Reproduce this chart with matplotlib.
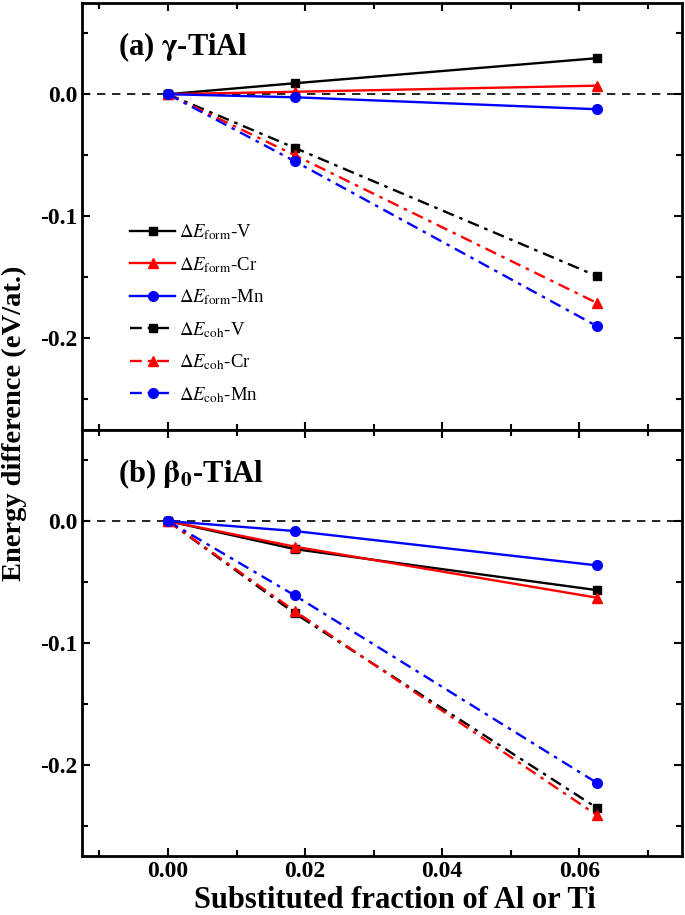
import matplotlib
matplotlib.use("Agg")
import matplotlib.pyplot as plt
from matplotlib.ticker import MultipleLocator

plt.rcParams['font.family'] = ['Liberation Serif', 'DejaVu Serif']
plt.rcParams['mathtext.fontset'] = 'stix'

x = [0.0, 0.0185, 0.0625]

# (a) gamma-TiAl
a_form_V = [0.0, 0.009, 0.0295]
a_form_Cr = [0.0, 0.002, 0.007]
a_form_Mn = [0.0, -0.0025, -0.0123]
a_coh_V = [0.0, -0.044, -0.149]
a_coh_Cr = [0.0, -0.050, -0.171]
a_coh_Mn = [0.0, -0.055, -0.190]

# (b) beta0-TiAl
b_form_V = [0.0, -0.023, -0.0566]
b_form_Cr = [0.0, -0.021, -0.0628]
b_form_Mn = [0.0, -0.0082, -0.0363]
b_coh_V = [0.0, -0.0757, -0.235]
b_coh_Cr = [0.0, -0.0738, -0.241]
b_coh_Mn = [0.0, -0.061, -0.2145]

labels = [r'$\mathit{\Delta}\mathit{E}_{\mathrm{form}}$-V', r'$\mathit{\Delta}\mathit{E}_{\mathrm{form}}$-Cr',
          r'$\mathit{\Delta}\mathit{E}_{\mathrm{form}}$-Mn', r'$\mathit{\Delta}\mathit{E}_{\mathrm{coh}}$-V',
          r'$\mathit{\Delta}\mathit{E}_{\mathrm{coh}}$-Cr', r'$\mathit{\Delta}\mathit{E}_{\mathrm{coh}}$-Mn']
colors = ['black', 'red', 'blue']
markers = ['s', '^', 'o']
msizes = [6, 7.5, 7]
dashdot = (0, (5, 2.5, 1.5, 2.5))

fig, axes = plt.subplots(2, 1, figsize=(6.85, 9.15), dpi=100, sharex=True)
plt.subplots_adjust(left=0.12, right=0.996, top=0.997, bottom=0.064, hspace=0)

panels = [
    (axes[0], [a_form_V, a_form_Cr, a_form_Mn], [a_coh_V, a_coh_Cr, a_coh_Mn], r'(a) $\mathbf{\gamma}$-TiAl'),
    (axes[1], [b_form_V, b_form_Cr, b_form_Mn], [b_coh_V, b_coh_Cr, b_coh_Mn], r'(b) $\mathbf{\beta_0}$-TiAl'),
]

for ax, forms, cohs, title in panels:
    ax.axhline(0, color='black', lw=1.2, ls=(0, (5, 4)), zorder=1)
    for i in range(3):
        ax.plot(x, forms[i], color=colors[i], marker=markers[i], ms=msizes[i], lw=1.7,
                label=labels[i], zorder=3)
    for i in range(3):
        ax.plot(x, cohs[i], color=colors[i], marker=markers[i], ms=msizes[i], lw=1.7,
                ls=dashdot, label=labels[i + 3], zorder=2)
    ax.set_xlim(-0.0125, 0.075)
    ax.set_ylim(-0.275, 0.075)
    ax.xaxis.set_major_locator(MultipleLocator(0.02))
    ax.xaxis.set_minor_locator(MultipleLocator(0.01))
    ax.yaxis.set_major_locator(MultipleLocator(0.1))
    ax.yaxis.set_minor_locator(MultipleLocator(0.05))
    ax.tick_params(which='both', direction='in', top=True, right=True, width=1.5)
    ax.tick_params(which='major', length=6, labelsize=17)
    ax.tick_params(which='minor', length=4)
    for s in ax.spines.values():
        s.set_linewidth(2)
    ax.text(0.06, 0.935, title, transform=ax.transAxes, fontsize=22, fontweight='bold',
            va='top', ha='left')

axes[0].set_yticks([0.0, -0.1, -0.2])
axes[0].set_yticklabels(['0.0', '-0.1', '-0.2'], fontweight='bold')
axes[1].set_yticks([0.0, -0.1, -0.2])
axes[1].set_yticklabels(['0.0', '-0.1', '-0.2'], fontweight='bold')
axes[1].set_xticks([0.0, 0.02, 0.04, 0.06])
axes[1].set_xticklabels(['0.00', '0.02', '0.04', '0.06'], fontweight='bold')

axes[0].legend(loc='upper left', bbox_to_anchor=(0.08, 0.485), frameon=False, fontsize=13.5,
               handlelength=2.4, labelspacing=0.68, handletextpad=0.2,
               borderpad=0, borderaxespad=0)

fig.text(0.002, 0.537, 'Energy difference (eV/at.)', rotation=90, fontsize=20.5,
         fontweight='bold', ha='left', va='center')
fig.text(0.577, 0.008, 'Substituted fraction of Al or Ti', fontsize=22, fontweight='bold',
         ha='center', va='baseline')

fig.savefig('out.png', dpi=100)
